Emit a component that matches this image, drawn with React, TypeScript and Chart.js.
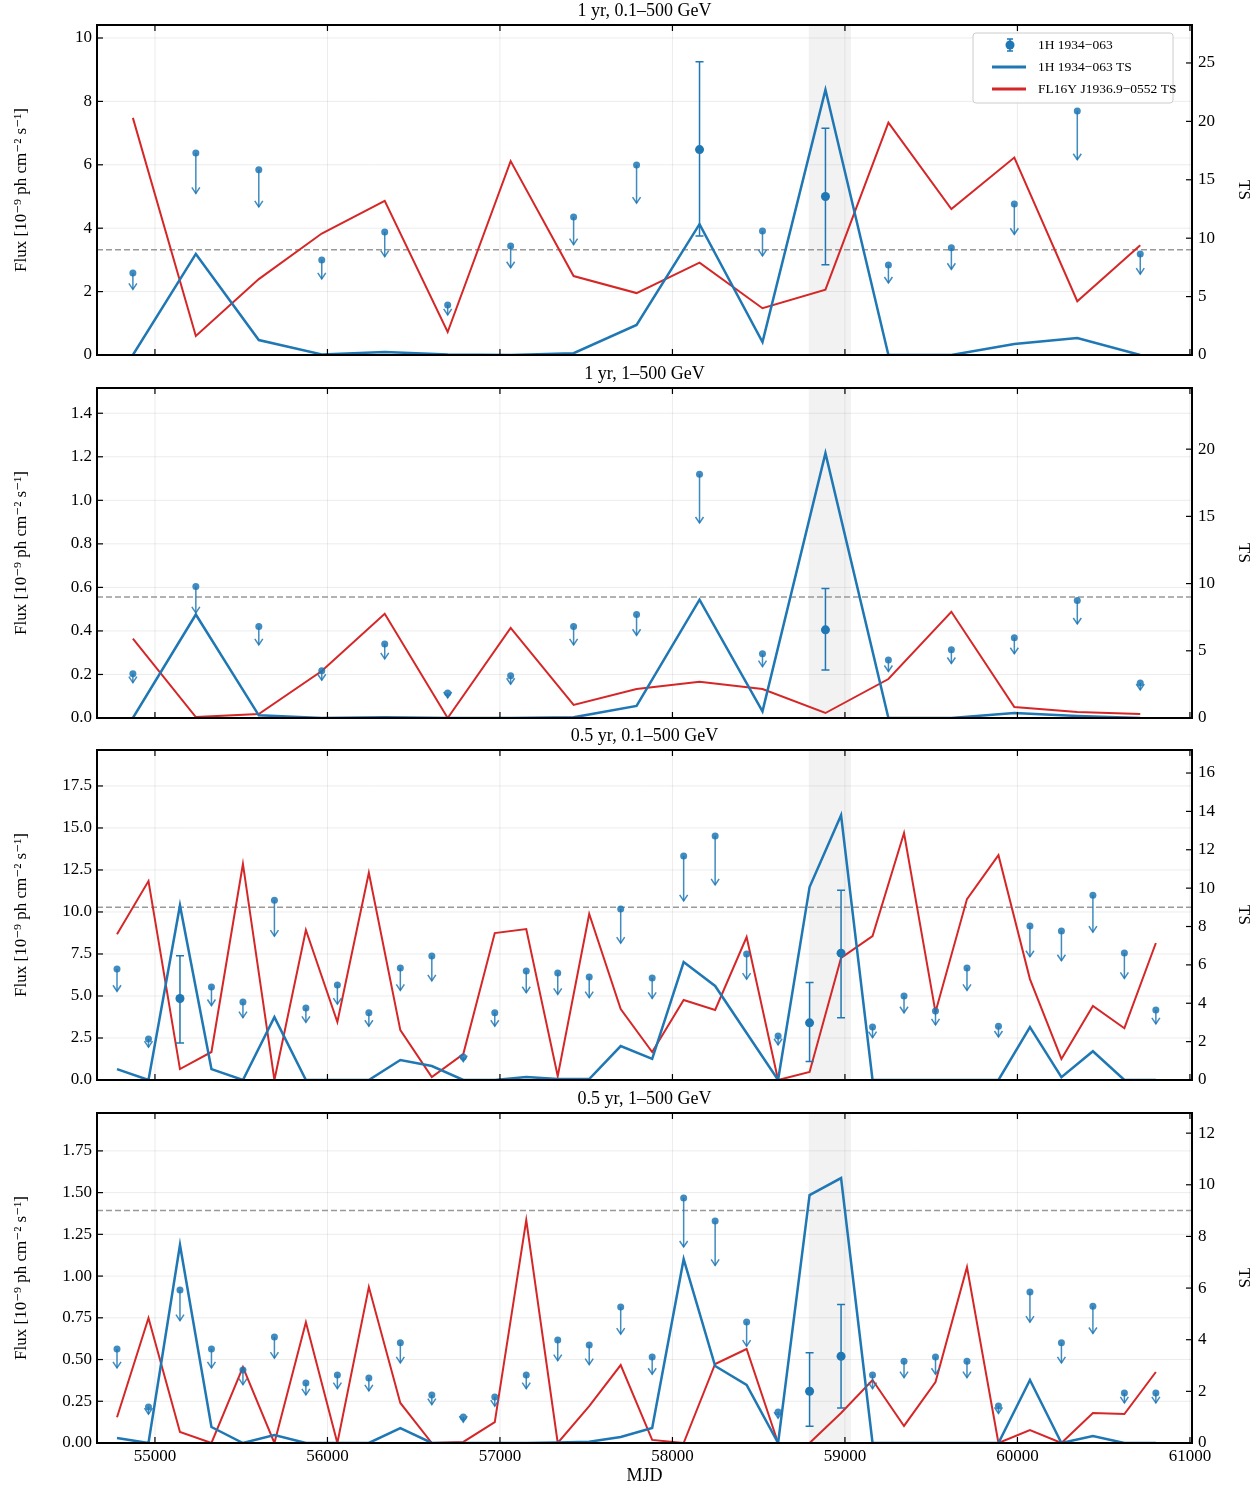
import React, { useEffect, useRef } from "react";
import { Chart, registerables } from "chart.js";
Chart.register(...registerables);

const t1yr = [54872, 55237, 55602, 55967, 56332, 56697, 57062, 57427, 57792, 58157, 58522, 58887, 59252, 59617, 59982, 60347, 60712];
const t05yr = [54780, 54962.5, 55145, 55327.5, 55510, 55692.5, 55875, 56057.5, 56240, 56422.5, 56605, 56787.5, 56970, 57152.5, 57335, 57517.5, 57700, 57882.5, 58065, 58247.5, 58430, 58612.5, 58795, 58977.5, 59160, 59342.5, 59525, 59707.5, 59890, 60072.5, 60255, 60437.5, 60620, 60802.5];

// panel 1: 1 yr 0.1-500 GeV
const p1Flux = [2.59, 6.37, 5.84, 3.0, 3.88, 1.58, 3.44, 4.35, 5.99, 6.48, 3.91, 5.0, 2.84, 3.38, 4.76, 7.7, 3.19];
const p1Det: Record<number, [number, number]> = { 9: [3.75, 9.25], 11: [2.85, 7.15] };
const p1TsBlue = [0, 8.65, 1.28, 0.05, 0.25, 0.05, 0, 0.15, 2.57, 11.2, 1.1, 22.7, 0, 0, 0.95, 1.45, 0];
const p1TsRed = [20.3, 1.63, 6.5, 10.4, 13.2, 1.97, 16.6, 6.76, 5.3, 7.9, 4.0, 5.6, 19.9, 12.5, 16.9, 4.6, 9.4];

// panel 2: 1 yr 1-500 GeV
const p2Flux = [0.203, 0.604, 0.42, 0.217, 0.34, 0.115, 0.194, 0.42, 0.475, 1.12, 0.295, 0.405, 0.267, 0.313, 0.369, 0.54, 0.161];
const p2Det: Record<number, [number, number]> = { 11: [0.22, 0.595] };
const p2TsBlue = [0, 7.7, 0.2, 0, 0.05, 0, 0, 0.05, 0.9, 8.8, 0.5, 19.7, 0, 0, 0.37, 0.15, 0];
const p2TsRed = [5.9, 0.07, 0.3, 3.5, 7.76, 0, 6.7, 0.97, 2.16, 2.7, 2.16, 0.37, 2.9, 7.9, 0.82, 0.45, 0.3];

// panel 3: 0.5 yr 0.1-500 GeV
const p3Flux = [6.6, 2.44, 4.85, 5.54, 4.64, 10.7, 4.29, 5.65, 4.0, 6.67, 7.38, 1.37, 4.0, 6.49, 6.37, 6.13, 10.18, 6.07, 13.33, 14.52, 7.5, 2.62, 3.4, 7.55, 3.15, 5.0, 4.1, 6.67, 3.2, 9.17, 8.87, 11.0, 7.56, 4.17];
const p3Det: Record<number, [number, number]> = { 2: [2.2, 7.4], 22: [1.1, 5.8], 23: [3.7, 11.3] };
const p3TsBlue = [0.57, 0, 9.1, 0.57, 0, 3.28, 0, 0, 0, 1.04, 0.73, 0, 0, 0.15, 0.05, 0.05, 1.77, 1.1, 6.15, 4.9, 2.45, 0, 10.06, 13.8, 0, 0, 0, 0, 0, 2.76, 0.15, 1.5, 0, 0];
const p3TsRed = [7.6, 10.37, 0.57, 1.46, 11.26, 0, 7.82, 3.02, 10.8, 2.6, 0.15, 1.35, 7.66, 7.87, 0.2, 8.65, 3.7, 1.46, 4.17, 3.65, 7.45, 0, 0.42, 6.36, 7.5, 12.87, 3.54, 9.43, 11.72, 5.26, 1.1, 3.86, 2.7, 7.14];

// panel 4: 0.5 yr 1-500 GeV
const p4Flux = [0.563, 0.216, 0.917, 0.563, 0.437, 0.635, 0.36, 0.407, 0.39, 0.6, 0.288, 0.156, 0.276, 0.407, 0.617, 0.587, 0.815, 0.515, 1.468, 1.33, 0.725, 0.186, 0.31, 0.52, 0.407, 0.49, 0.515, 0.49, 0.222, 0.905, 0.6, 0.82, 0.3, 0.3];
const p4Det: Record<number, [number, number]> = { 22: [0.1, 0.54], 23: [0.21, 0.83] };
const p4TsBlue = [0.19, 0, 7.67, 0.62, 0, 0.31, 0, 0, 0, 0.58, 0, 0, 0, 0, 0.02, 0.05, 0.23, 0.58, 7.12, 2.98, 2.25, 0, 9.6, 10.26, 0, 0, 0, 0, 0, 2.44, 0, 0.27, 0, 0];
const p4TsRed = [1.0, 4.84, 0.43, 0, 2.94, 0, 4.68, 0, 6.04, 1.55, 0, 0.04, 0.81, 8.63, 0, 1.43, 3.02, 0.12, 0, 3.06, 3.64, 0, 0, 1.16, 2.44, 0.66, 2.36, 6.81, 0, 0.5, 0, 1.16, 1.12, 2.75];

const xTicks = [55000, 56000, 57000, 58000, 59000, 60000, 61000];
const shade = [58790, 59035];
const tsThreshold = 9;

const BLUE = "#1f77b4";
const RED = "#d62728";
const FONT = "'Liberation Serif', 'DejaVu Serif', serif";

type Panel = {
  title: string; t: number[]; flux: number[]; det: Record<number, [number, number]>;
  tsB: number[]; tsR: number[]; yMax: number; yStep: number; yDec: number;
  y1Max: number; y1Step: number; legend?: boolean; last?: boolean;
};

const panels: Panel[] = [
  { title: "1 yr, 0.1–500 GeV", t: t1yr, flux: p1Flux, det: p1Det, tsB: p1TsBlue, tsR: p1TsRed, yMax: 10.41, yStep: 2, yDec: 0, y1Max: 28.25, y1Step: 5, legend: true },
  { title: "1 yr, 1–500 GeV", t: t1yr, flux: p2Flux, det: p2Det, tsB: p2TsBlue, tsR: p2TsRed, yMax: 1.516, yStep: 0.2, yDec: 1, y1Max: 24.55, y1Step: 5 },
  { title: "0.5 yr, 0.1–500 GeV", t: t05yr, flux: p3Flux, det: p3Det, tsB: p3TsBlue, tsR: p3TsRed, yMax: 19.64, yStep: 2.5, yDec: 1, y1Max: 17.2, y1Step: 2 },
  { title: "0.5 yr, 1–500 GeV", t: t05yr, flux: p4Flux, det: p4Det, tsB: p4TsBlue, tsR: p4TsRed, yMax: 1.977, yStep: 0.25, yDec: 2, y1Max: 12.78, y1Step: 2, last: true },
];

const PLOT_TOPS = [25, 388, 750, 1113];
const PLOT_H = 330;

function PanelChart({ p, top }: { p: Panel; top: number }) {
  const ref = useRef<HTMLCanvasElement>(null);
  const H = 25 + PLOT_H + (p.last ? 44 : 8);
  useEffect(() => {
    const plugin = {
      id: "custom",
      beforeDatasetsDraw(c: any) {
        const { ctx, chartArea: a, scales } = c;
        const x = scales.x, y = scales.y, y1 = scales.y1;
        ctx.save();
        ctx.strokeStyle = "rgba(0,0,0,0.08)";
        ctx.lineWidth = 1;
        for (const v of xTicks) { const px = x.getPixelForValue(v); ctx.beginPath(); ctx.moveTo(px, a.top); ctx.lineTo(px, a.bottom); ctx.stroke(); }
        for (let k = 0; k * p.yStep <= p.yMax + 1e-9; k++) { const py = y.getPixelForValue(k * p.yStep); ctx.beginPath(); ctx.moveTo(a.left, py); ctx.lineTo(a.right, py); ctx.stroke(); }
        ctx.fillStyle = "rgba(0,0,0,0.05)";
        const s0 = x.getPixelForValue(shade[0]), s1 = x.getPixelForValue(shade[1]);
        ctx.fillRect(s0, a.top, s1 - s0, a.bottom - a.top);
        ctx.setLineDash([6, 3]); ctx.strokeStyle = "#999"; ctx.lineWidth = 1.5;
        const ty = y1.getPixelForValue(tsThreshold);
        ctx.beginPath(); ctx.moveTo(a.left, ty); ctx.lineTo(a.right, ty); ctx.stroke();
        ctx.restore();
      },
      afterDatasetsDraw(c: any) {
        const { ctx, chartArea: a, scales } = c;
        const x = scales.x, y = scales.y, y1 = scales.y1;
        ctx.save();
        p.t.forEach((tv, i) => {
          const px = x.getPixelForValue(tv);
          const v = p.flux[i];
          const d = p.det[i];
          if (d) {
            ctx.strokeStyle = BLUE; ctx.fillStyle = BLUE; ctx.lineWidth = 1.5;
            const yl = y.getPixelForValue(d[0]), yh = y.getPixelForValue(d[1]);
            ctx.beginPath(); ctx.moveTo(px, yl); ctx.lineTo(px, yh);
            ctx.moveTo(px - 4, yl); ctx.lineTo(px + 4, yl);
            ctx.moveTo(px - 4, yh); ctx.lineTo(px + 4, yh); ctx.stroke();
            ctx.beginPath(); ctx.arc(px, y.getPixelForValue(v), 4.5, 0, Math.PI * 2); ctx.fill();
          } else {
            ctx.strokeStyle = "rgba(31,119,180,0.85)"; ctx.fillStyle = "rgba(31,119,180,0.85)"; ctx.lineWidth = 1.5;
            const py = y.getPixelForValue(v), pe = y.getPixelForValue(v * 0.8);
            ctx.beginPath(); ctx.moveTo(px, py); ctx.lineTo(px, pe); ctx.stroke();
            ctx.beginPath(); ctx.moveTo(px - 4, pe - 6); ctx.lineTo(px, pe); ctx.lineTo(px + 4, pe - 6); ctx.stroke();
            ctx.beginPath(); ctx.arc(px, py, 3.5, 0, Math.PI * 2); ctx.fill();
          }
        });
        ctx.strokeStyle = "#000"; ctx.lineWidth = 2;
        ctx.strokeRect(a.left, a.top, a.right - a.left, a.bottom - a.top);
        ctx.lineWidth = 1.2;
        ctx.fillStyle = "#000";
        ctx.font = `17px ${FONT}`;
        ctx.textAlign = "center"; ctx.textBaseline = "top";
        for (const v of xTicks) {
          const px = x.getPixelForValue(v);
          ctx.beginPath(); ctx.moveTo(px, a.bottom); ctx.lineTo(px, a.bottom - 6); ctx.moveTo(px, a.top); ctx.lineTo(px, a.top + 6); ctx.stroke();
          if (p.last) ctx.fillText(String(v), px, a.bottom + 5);
        }
        ctx.textAlign = "right"; ctx.textBaseline = "middle";
        for (let k = 0; k * p.yStep <= p.yMax + 1e-9; k++) {
          const v = k * p.yStep; const py = y.getPixelForValue(v);
          ctx.beginPath(); ctx.moveTo(a.left, py); ctx.lineTo(a.left + 6, py); ctx.stroke();
          ctx.fillText(v.toFixed(p.yDec), a.left - 5, py);
        }
        ctx.textAlign = "left";
        for (let k = 0; k * p.y1Step <= p.y1Max + 1e-9; k++) {
          const v = k * p.y1Step; const py = y1.getPixelForValue(v);
          ctx.beginPath(); ctx.moveTo(a.right, py); ctx.lineTo(a.right - 6, py); ctx.stroke();
          ctx.fillText(String(v), a.right + 6, py);
        }
        ctx.textAlign = "center"; ctx.textBaseline = "bottom"; ctx.font = `18px ${FONT}`;
        ctx.fillText(p.title, (a.left + a.right) / 2, a.top - 5);
        if (p.last) { ctx.textBaseline = "top"; ctx.fillText("MJD", (a.left + a.right) / 2, a.bottom + 24); }
        ctx.save(); ctx.translate(22, (a.top + a.bottom) / 2); ctx.rotate(-Math.PI / 2);
        ctx.textBaseline = "middle"; ctx.font = `17px ${FONT}`;
        ctx.fillText("Flux [10⁻⁹ ph cm⁻² s⁻¹]", 0, 0); ctx.restore();
        ctx.save(); ctx.translate(1243, (a.top + a.bottom) / 2); ctx.rotate(Math.PI / 2);
        ctx.textBaseline = "middle"; ctx.font = `17px ${FONT}`; ctx.fillText("TS", 0, 0); ctx.restore();
        if (p.legend) {
          const lx = 973, ly = a.top + 8, lw = 200, lh = 70;
          ctx.fillStyle = "rgba(255,255,255,0.85)"; ctx.strokeStyle = "#ccc"; ctx.lineWidth = 1;
          ctx.beginPath(); ctx.roundRect(lx, ly, lw, lh, 3); ctx.fill(); ctx.stroke();
          ctx.font = `13.5px ${FONT}`; ctx.textAlign = "left"; ctx.textBaseline = "middle";
          const rows = [ly + 12, ly + 34, ly + 56];
          ctx.strokeStyle = BLUE; ctx.fillStyle = BLUE; ctx.lineWidth = 1.5;
          ctx.beginPath(); ctx.moveTo(1010, rows[0] - 6); ctx.lineTo(1010, rows[0] + 6);
          ctx.moveTo(1007, rows[0] - 6); ctx.lineTo(1013, rows[0] - 6); ctx.moveTo(1007, rows[0] + 6); ctx.lineTo(1013, rows[0] + 6); ctx.stroke();
          ctx.beginPath(); ctx.arc(1010, rows[0], 4.5, 0, Math.PI * 2); ctx.fill();
          ctx.lineWidth = 3;
          ctx.beginPath(); ctx.moveTo(992, rows[1]); ctx.lineTo(1026, rows[1]); ctx.stroke();
          ctx.strokeStyle = RED;
          ctx.beginPath(); ctx.moveTo(992, rows[2]); ctx.lineTo(1026, rows[2]); ctx.stroke();
          ctx.fillStyle = "#000";
          ctx.fillText("1H 1934−063", 1038, rows[0]);
          ctx.fillText("1H 1934−063 TS", 1038, rows[1]);
          ctx.fillText("FL16Y J1936.9−0552 TS", 1038, rows[2]);
        }
        ctx.restore();
      },
    };
    const fit = (w: number | null, h: number | null) => (s: any) => { if (w !== null) s.width = w; if (h !== null) s.height = h; };
    const chart = new Chart(ref.current!, {
      type: "line",
      data: {
        datasets: [
          { data: p.t.map((t, i) => ({ x: t, y: p.tsB[i] })), yAxisID: "y1", borderColor: BLUE, borderWidth: 2.5, pointRadius: 0 },
          { data: p.t.map((t, i) => ({ x: t, y: p.tsR[i] })), yAxisID: "y1", borderColor: RED, borderWidth: 2, pointRadius: 0 },
        ],
      },
      options: {
        animation: false, responsive: false, maintainAspectRatio: false,
        layout: { padding: { top: 25, left: 0, right: 0, bottom: 0 } },
        plugins: { legend: { display: false }, tooltip: { enabled: false } },
        scales: {
          x: { type: "linear", min: 54664, max: 61012, grid: { display: false }, border: { display: false }, ticks: { display: false }, afterFit: fit(null, p.last ? 44 : 8) },
          y: { position: "left", min: 0, max: p.yMax, grid: { display: false }, border: { display: false }, ticks: { display: false }, afterFit: fit(97, null) },
          y1: { position: "right", min: 0, max: p.y1Max, grid: { display: false }, border: { display: false }, ticks: { display: false }, afterFit: fit(61, null) },
        },
      } as any,
      plugins: [plugin],
    });
    return () => chart.destroy();
  }, []);
  return (
    <div style={{ position: "absolute", left: 0, top: top - 25, width: 1253, height: H }}>
      <canvas ref={ref} width={1253} height={H} style={{ width: 1253, height: H }} />
    </div>
  );
}

export default function App() {
  return (
    <div style={{ position: "absolute", left: 0, top: 0, width: 1253, height: 1487, background: "#fff" }}>
      {panels.map((p, i) => <PanelChart key={i} p={p} top={PLOT_TOPS[i]} />)}
    </div>
  );
}
